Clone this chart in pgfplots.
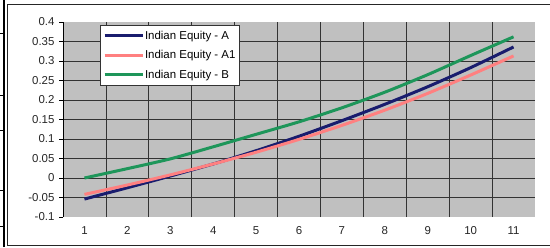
\documentclass[border=0pt]{standalone}
\usepackage{pgfplots}
\pgfplotsset{compat=1.18}
\usepackage{fontspec}
\setmainfont{Liberation Sans}
\definecolor{navyA}{RGB}{25,28,110}
\definecolor{pinkA}{RGB}{255,128,128}
\definecolor{greenB}{RGB}{30,150,90}
\definecolor{plotgray}{RGB}{192,192,192}
\begin{document}
\begin{tikzpicture}[x=1bp,y=1bp]
\useasboundingbox (0,0) rectangle (550,247);
% surrounding frame
\draw[black!85, line width=1bp] (550,242) -- (7.3,242) -- (7.3,1.5) -- (550,1.5);
\draw[black, line width=2bp] (4,0) -- (4,247);
\foreach \yy in {33,95,130,190.7,226.7} {\draw[black, line width=1bp] (0,247-\yy) -- (4,247-\yy);}
\begin{axis}[
  at={(63bp,30bp)}, anchor=south west,
  scale only axis, width=472bp, height=195bp,
  xmin=0.5, xmax=11.5, ymin=-0.1, ymax=0.4,
  axis background/.style={fill=plotgray},
  axis lines=left, axis line style={-, black, line width=0.8bp},
  x axis line style={draw=none},
  xtick={1,2,3,4,5,6,7,8,9,10,11},
  xticklabels={1,2,3,4,5,6,7,8,9,10,11},
  minor xtick={1.5,2.5,3.5,4.5,5.5,6.5,7.5,8.5,9.5,10.5},
  ytick={-0.1,-0.05,0,0.05,0.1,0.15,0.2,0.25,0.3,0.35,0.4},
  yticklabels={-0.1,-0.05,0,0.05,0.1,0.15,0.2,0.25,0.3,0.35,0.4},
  minor ytick={-0.05,0,0.05,0.1,0.15,0.2,0.25,0.3,0.35},
  xminorgrids=true, yminorgrids=true, xmajorgrids=false, ymajorgrids=false,
  minor grid style={black!80, line width=0.7bp},
  minor tick length=0pt,
  tick align=outside,
  x tick style={draw=none},
  y tick style={black, line width=0.8bp},
  major tick length=4bp,
  ticklabel style={font=\fontsize{11.5}{13}\selectfont, text=black!85},
  xticklabel style={yshift=-2bp},
  yticklabel style={xshift=-1bp},
  legend style={at={(0.078,0.985)}, anchor=north west, draw=black!80, fill=white,
    font=\fontsize{11.5}{13}\selectfont, inner xsep=3bp, inner ysep=1bp,
    nodes={inner xsep=1bp, inner ysep=4.5bp, text height=8.5bp, text depth=2bp}, row sep=0pt},
  legend cell align=left,
  legend image code/.code={\draw[#1, line width=3bp] (0bp,0bp) -- (38bp,0bp);},
  every axis plot/.append style={line width=3bp, smooth, tension=0.4},
]
\addplot[navyA] coordinates {(1,-0.054) (2,-0.025) (3,0.005) (4,0.036) (5,0.070) (6,0.107) (7,0.147) (8,0.189) (9,0.234) (10,0.283) (11,0.336)};
\addlegendentry{Indian Equity - A}
\addplot[pinkA] coordinates {(1,-0.042) (2,-0.018) (3,0.008) (4,0.036) (5,0.066) (6,0.099) (7,0.135) (8,0.174) (9,0.217) (10,0.264) (11,0.313)};
\addlegendentry{Indian Equity - A1}
\addplot[greenB] coordinates {(1,0.0) (2,0.024) (3,0.049) (4,0.080) (5,0.112) (6,0.144) (7,0.180) (8,0.220) (9,0.265) (10,0.314) (11,0.362)};
\addlegendentry{Indian Equity - B}
\end{axis}
\end{tikzpicture}
\end{document}
